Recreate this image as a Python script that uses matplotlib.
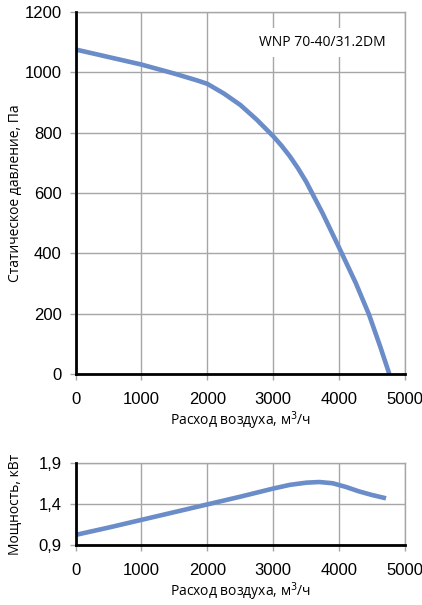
import matplotlib
matplotlib.use("Agg")
import matplotlib.pyplot as plt

# характеристика вентилятора
flow_p = [0, 500, 1000, 1500, 1850, 2000, 2250, 2500, 2750, 3000, 3125, 3250, 3375, 3500,
          3750, 4000, 4250, 4450, 4620, 4760]
pressure = [1076, 1051, 1026, 996, 973, 962, 930, 892, 843, 788, 757, 722, 682, 637,
            532, 418, 302, 198, 92, 0]

flow_n = [0, 500, 1000, 1500, 2000, 2500, 2750, 3000, 3250, 3500, 3700, 3900, 4100, 4300, 4500, 4710]
power = [1.02, 1.11, 1.205, 1.30, 1.395, 1.49, 1.54, 1.59, 1.635, 1.662, 1.67, 1.655, 1.61, 1.555, 1.51, 1.47]

x_ticks = [0, 1000, 2000, 3000, 4000, 5000]
p_ticks = [0, 200, 400, 600, 800, 1000, 1200]
n_ticks = [0.9, 1.4, 1.9]
n_labels = ["0,9", "1,4", "1,9"]

line_color = "#6a8cc8"
grid_color = "#a6a6a6"
lbl_font = "Open Sans"
tick_font = "Liberation Sans"

fig = plt.figure(figsize=(4.22, 6.05), dpi=100)
ax1 = fig.add_axes([0.179, 0.382, 0.781, 0.598])
ax2 = fig.add_axes([0.179, 0.0997, 0.781, 0.1345])


def style(ax):
    ax.set_xlim(0, 5000)
    ax.set_xticks(x_ticks)
    ax.grid(True, color=grid_color, linewidth=1)
    ax.set_axisbelow(True)
    for s in ["top", "right"]:
        ax.spines[s].set_color(grid_color)
        ax.spines[s].set_linewidth(1)
    for s in ["left", "bottom"]:
        ax.spines[s].set_color("black")
        ax.spines[s].set_linewidth(2)
        ax.spines[s].set_zorder(3)
    ax.tick_params(length=4, color=grid_color, width=1, labelsize=12, pad=6)
    ax.tick_params(axis="x", pad=9)
    for t in ax.get_xticklabels() + ax.get_yticklabels():
        t.set_family(tick_font)
    ax.set_xlabel("Расход воздуха, м$^3$/ч", family=lbl_font, fontsize=10, labelpad=2)
    ax.yaxis.set_label_coords(-0.16, 0.5)


ax1.plot(flow_p, pressure, color=line_color, linewidth=3.3, solid_capstyle="butt",
         solid_joinstyle="round", zorder=2)
ax1.set_ylim(0, 1200)
ax1.set_yticks(p_ticks)
style(ax1)
ax1.set_ylabel("Статическое давление, Па", family=lbl_font, fontsize=10)
ax1.text(0.94, 0.915, "WNP 70-40/31.2DM", transform=ax1.transAxes, ha="right", va="center",
         family=lbl_font, fontsize=10,
         bbox=dict(facecolor="white", edgecolor="none", pad=5))

ax2.plot(flow_n, power, color=line_color, linewidth=3.3, solid_capstyle="butt",
         solid_joinstyle="round", zorder=2)
ax2.set_ylim(0.9, 1.9)
ax2.set_yticks(n_ticks)
ax2.set_yticklabels(n_labels)
style(ax2)
ax2.set_ylabel("Мощность, кВт", family=lbl_font, fontsize=10)

fig.savefig("out.png", dpi=100)
